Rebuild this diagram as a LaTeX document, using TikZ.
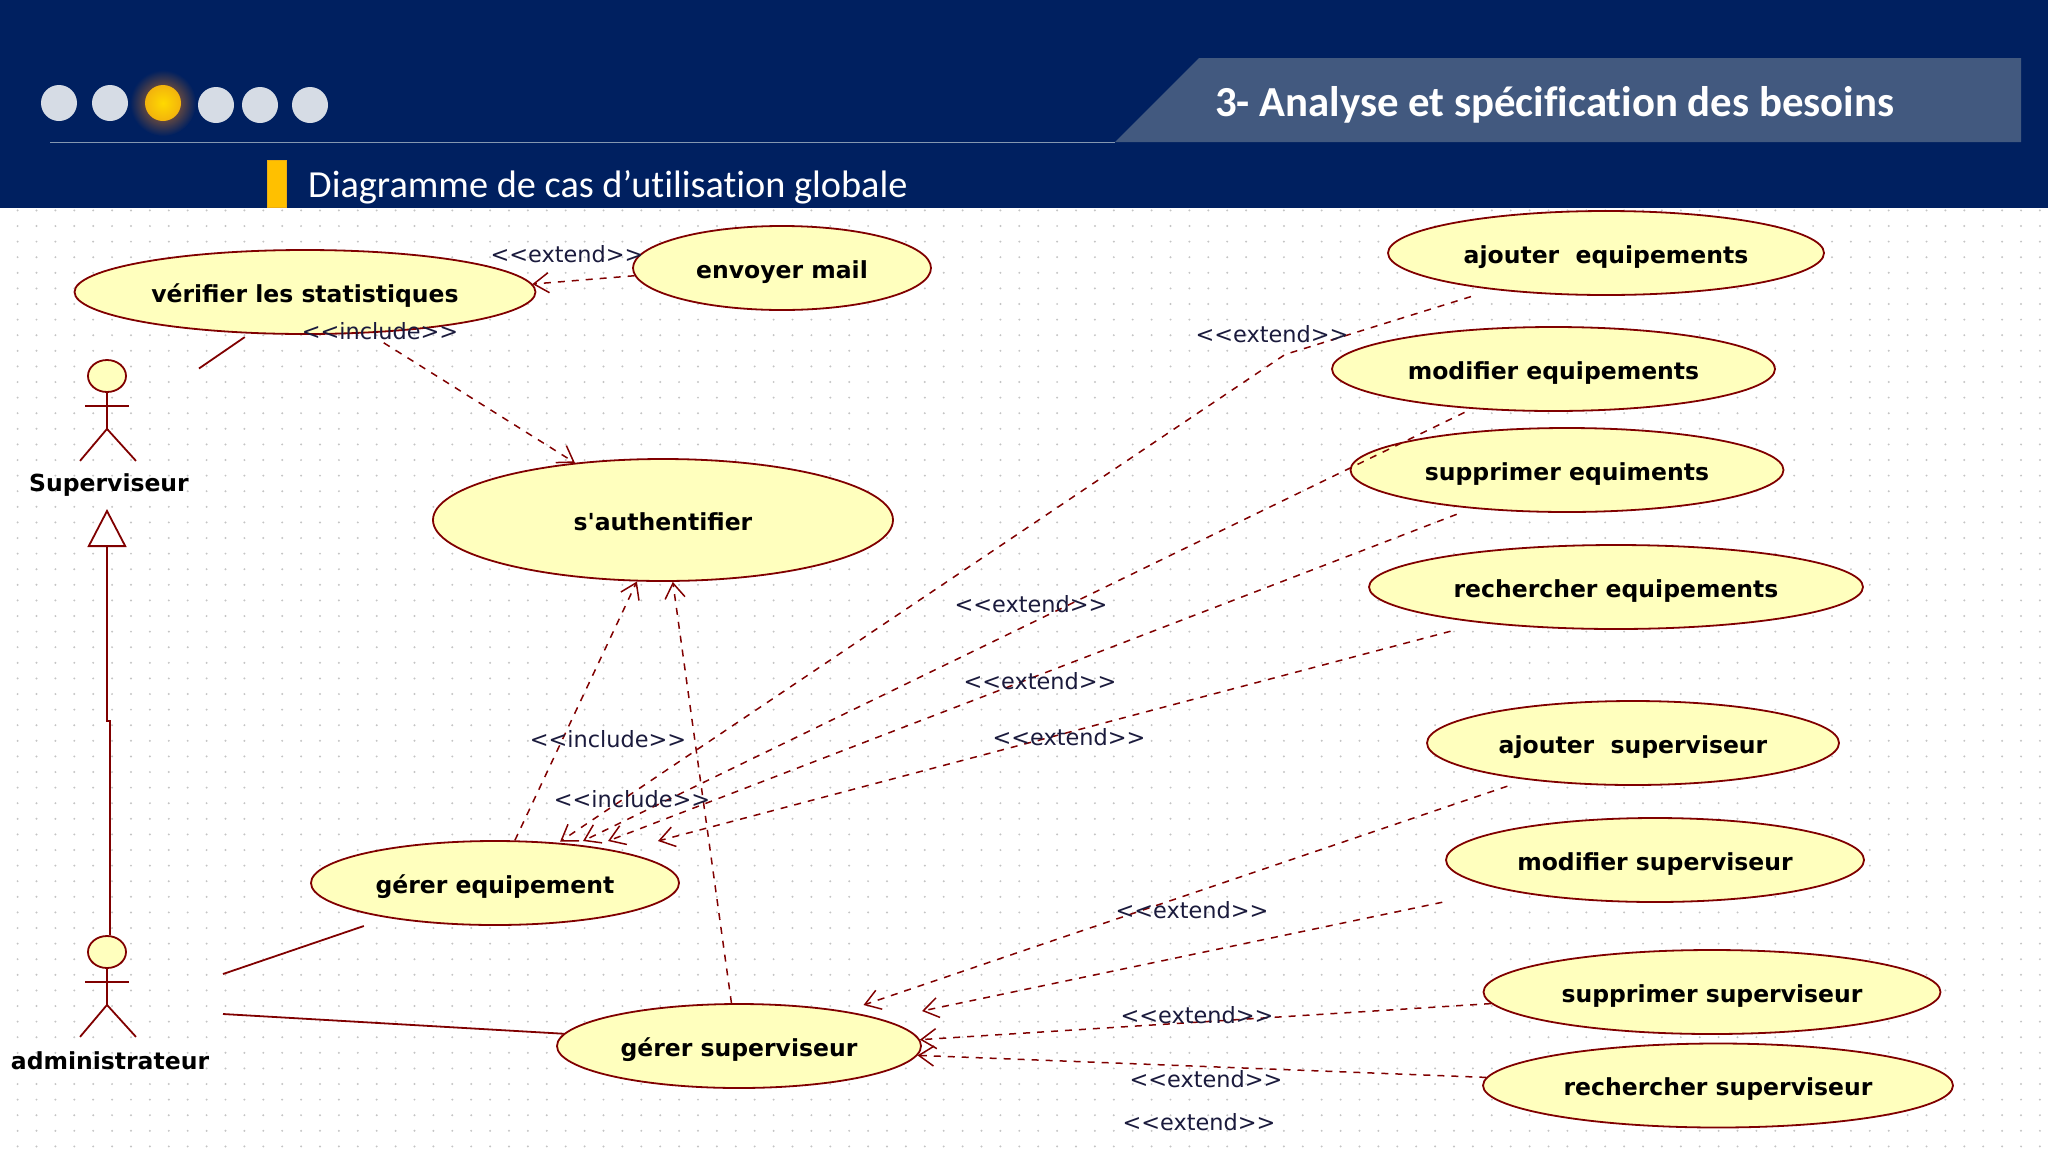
\documentclass[tikz,border=0pt]{standalone}
\usepackage{fontspec}
\setmainfont{Carlito}[Ligatures=NoCommon]
\newfontfamily\umlfont{DejaVu Sans}
\usetikzlibrary{arrows.meta,shapes.geometric}
\definecolor{navy}{HTML}{002060}
\definecolor{band}{HTML}{42597F}
\definecolor{rule}{HTML}{8497B0}
\definecolor{pale}{HTML}{D6DCE5}
\definecolor{gold}{HTML}{FFC000}
\definecolor{glow}{HTML}{C87020}
\definecolor{ucfill}{HTML}{FFFFBE}
\definecolor{ucline}{HTML}{800000}
\definecolor{griddot}{HTML}{C4C4C4}
\definecolor{stereoink}{HTML}{1A1A3C}
\tikzset{
  usecase/.style={ellipse,draw=ucline,fill=ucfill,line width=1.8pt,inner sep=0pt,
    text height=22pt,text depth=2pt,
    font=\umlfont\bfseries\fontsize{23.5}{26}\selectfont},
  ucsize/.style 2 args={minimum width=#1pt,minimum height=#2pt},
  head/.style={usecase,minimum width=38pt,minimum height=32pt,text height=0pt,text depth=0pt},
  actorname/.style={inner sep=0pt,font=\umlfont\bfseries\fontsize{23.5}{26}\selectfont},
  assoc/.style={draw=ucline,line width=1.8pt},
  dep/.style={draw=ucline,line width=1.5pt,dash pattern=on 7pt off 7pt,
    -{Straight Barb[length=15pt,width=20pt]}},
  stereo/.style={inner sep=0pt,text=stereoink,font=\umlfont\fontsize{22.4}{26}\selectfont},
  bullet/.style={fill=pale}
}
\newcommand{\actorlimbs}[1]{
  \draw[assoc] (#1.south) -- ++(0,36) coordinate (#1hip) -- ++(-27,32);
  \draw[assoc] (#1hip) -- ++(29,32);
  \draw[assoc] (#1.south) ++(-22,13) -- ++(44,0);
}
\begin{document}
\begin{tikzpicture}[x=1pt,y=-1pt]
  \useasboundingbox (0,0) rectangle (2048,1152);
  % banner
  \fill[navy] (0,0) rectangle (2048,208);
  \fill[band] (1199,58) -- (2021,58) -- (2021,142) -- (1115,142) -- cycle;
  \draw[rule,line width=1.2pt] (50,142.5) -- (1115,142.5);
  \shade[inner color=glow,outer color=navy] (163,103) circle[radius=33];
  \foreach \bx/\by in {59/103,110/103,216/105,260/105,310/105}
    \fill[bullet] (\bx,\by) circle[radius=18];
  \shade[inner color=gold!60!yellow,outer color=gold!80!brown] (163,103) circle[radius=18];
  \filldraw[fill=gold,draw=gold!70!brown,line width=1pt] (267,160) rectangle (286,207);
  \node[inner sep=0pt,anchor=base west,text=white,font=\fontsize{38.3}{44}\selectfont] (subtitle)
    at (308,197) {Diagramme de cas d’utilisation globale};
  \node[inner sep=0pt,anchor=base west,text=white,font=\bfseries\fontsize{42.8}{48}\selectfont] (title)
    at (1215,116) {3- Analyse et spécification des besoins};
  % dotted sheet
  \foreach \i in {0,...,107}
    \foreach \j in {0,...,60}
      \fill[griddot] ({17.6+18.9*\i},{210.4+15.6*\j}) circle[radius=1.1];
  % use cases
  \node[usecase,ucsize={461}{84}] (verifier) at (305,292) {vérifier les statistiques};
  \node[usecase,ucsize={298}{84}] (envoyer)  at (782,268) {envoyer mail};
  \node[usecase,ucsize={460}{122}] (auth)    at (663,520) {s'authentifier};
  \node[usecase,ucsize={436}{84}] (ajeq)     at (1606,253) {ajouter\ \ equipements};
  \node[usecase,ucsize={443}{84}] (moeq)     at (1553.5,369) {modifier equipements};
  \node[usecase,ucsize={433}{84}] (supeq)    at (1567,470) {supprimer equiments};
  \node[usecase,ucsize={494}{84}] (recheq)   at (1616,587) {rechercher equipements};
  \node[usecase,ucsize={412}{84}] (ajsup)    at (1633,743) {ajouter\ \ superviseur};
  \node[usecase,ucsize={418}{84}] (mosup)    at (1655,860) {modifier superviseur};
  \node[usecase,ucsize={457}{84}] (supsup)   at (1712,992) {supprimer superviseur};
  \node[usecase,ucsize={470}{84}] (recsup)   at (1718,1085.5) {rechercher superviseur};
  \node[usecase,ucsize={368}{84}] (gereq)    at (495,883) {gérer equipement};
  \node[usecase,ucsize={364}{84}] (gersup)   at (739,1046) {gérer superviseur};
  % actors
  \node[head] (headS) at (107,376) {};
  \node[head] (headA) at (107,952) {};
  \actorlimbs{headS}
  \actorlimbs{headA}
  \node[actorname] (nameS) at (109,485) {Superviseur};
  \node[actorname] (nameA) at (110,1061) {administrateur};
  % free ends
  \coordinate (apex)  at (107,509);
  \coordinate (kinka) at (110,721);
  \coordinate (kinkb) at (107,721);
  \coordinate (bendA) at (1285,354.5);
  \coordinate (tipA)  at (560,841.7);
  \coordinate (tipB)  at (583,841);
  \coordinate (tipC)  at (608,841);
  \coordinate (tipD)  at (658,841);
  \coordinate (tipE)  at (863.5,1005);
  \coordinate (tipF)  at (922,1011);
  \coordinate (freeS) at (199,368.5);
  \coordinate (freeA) at (223,974);
  \coordinate (freeB) at (223,1014);
  % associations
  \draw[assoc,shorten >=6pt] (freeS) -- (verifier.217);
  \draw[assoc,shorten >=25pt] (freeA) -- (gereq.198.4);
  \draw[assoc] (freeB) -- (gersup.176.8);
  \draw[assoc,-{Triangle[open,fill=white,length=38pt,width=39pt]}]
    (headA.80) -- (kinka) -- (kinkb) -- (apex);
  % include and extend
  \draw[dep] (envoyer.183.5) -- (verifier.2.7);
  \draw[dep,shorten <=18pt] (verifier.-33) -- (auth.147);
  \draw[dep] (gereq.65) -- (auth.-113);
  \draw[dep] (gersup.100) -- (auth.-81);
  \draw[dep,shorten <=23pt] (ajeq.198) -- (bendA) -- (tipA);
  \draw[dep,shorten <=8pt]  (moeq.206.7) -- (tipB);
  \draw[dep,shorten <=16pt] (supeq.202) -- (tipC);
  \draw[dep,shorten <=32pt] (recheq.195.3) -- (tipD);
  \draw[dep,shorten <=20pt] (ajsup.199.4) -- (tipE);
  \draw[dep,shorten <=62pt] (mosup.191.8) -- (tipF);
  \draw[dep] (supsup.183.7) -- (gersup.2);
  \draw[dep] (recsup.178) -- (gersup.-3);
  % stereotypes
  \node[stereo] (lbla) at (567,254)  {<{}<extend>{}>};
  \node[stereo] (lblb) at (380,331)  {<{}<include>{}>};
  \node[stereo] (lblc) at (1272,334) {<{}<extend>{}>};
  \node[stereo] (lbld) at (1031,604) {<{}<extend>{}>};
  \node[stereo] (lble) at (1040,681) {<{}<extend>{}>};
  \node[stereo] (lblf) at (1069,737) {<{}<extend>{}>};
  \node[stereo] (lblg) at (608,739)  {<{}<include>{}>};
  \node[stereo] (lblh) at (632,799)  {<{}<include>{}>};
  \node[stereo] (lbli) at (1192,910) {<{}<extend>{}>};
  \node[stereo] (lblj) at (1197,1015) {<{}<extend>{}>};
  \node[stereo] (lblk) at (1206,1079) {<{}<extend>{}>};
  \node[stereo] (lbll) at (1199,1122) {<{}<extend>{}>};
\end{tikzpicture}
\end{document}
